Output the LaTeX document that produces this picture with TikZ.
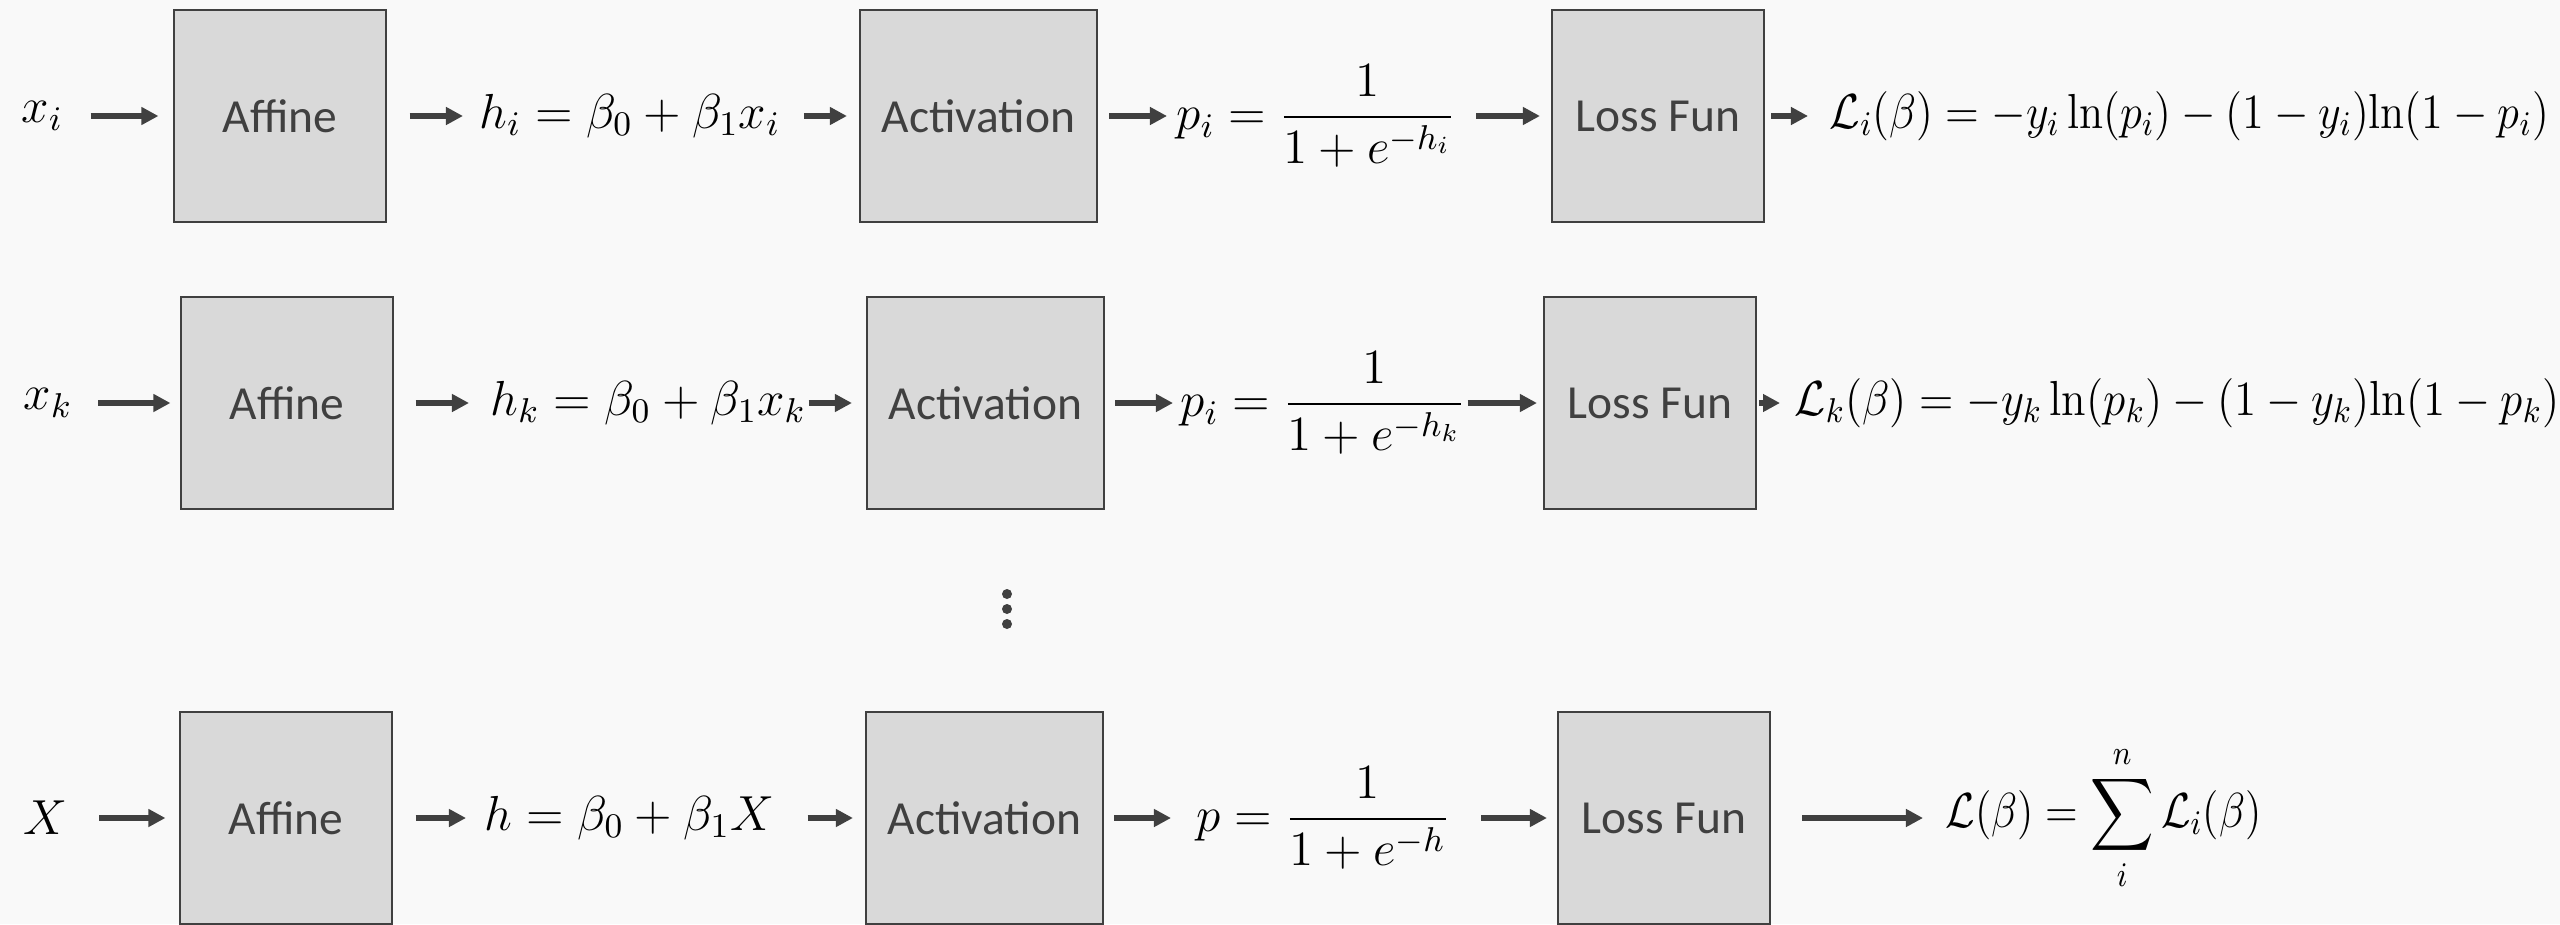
\RequirePackage{fix-cm}
\documentclass[tikz,border=0pt]{standalone}
\usepackage{amsmath}
\usepackage{graphicx}
\usepackage[no-math]{fontspec}
\newfontfamily\carlito{Carlito}
\usetikzlibrary{arrows.meta}
\definecolor{bg}{HTML}{F9F9F9}
\definecolor{boxfill}{HTML}{D9D9D9}
\definecolor{dk}{HTML}{404040}
\begin{document}
\begin{tikzpicture}[x=0.01cm,y=-0.01cm,
  blk/.style={draw=dk, line width=0.02cm, fill=boxfill, minimum height=2.11cm,
    text=dk, font=\carlito\fontsize{13.5}{16}\selectfont, inner sep=0},
  affbox/.style={blk, minimum width=2.11cm},
  actbox/.style={blk, minimum width=2.37cm},
  lossbox/.style={blk, minimum width=2.12cm},
  eq/.style={inner sep=0, font=\fontsize{14}{17}\selectfont, anchor=west},
  arr/.style={draw=dk, line width=0.065cm, -{Triangle[length=0.17cm,width=0.17cm]}},
]
\fill[bg] (0,0) rectangle (2560,924);
\useasboundingbox (0,0) rectangle (2560,924);
\clip (0,0) rectangle (2560,924);

% Row 1
\node[eq] (x1) at (21,116) {$x_i$};
\node[affbox] (aff1) at (280,116) {Affine};
\node[eq] (h1) at (479,116) {$h_i = \beta_0 + \beta_1 x_i$};
\node[actbox] (act1) at (978.5,116) {Activation};
\node[eq] (p1) at (1176,116) {$p_i = \dfrac{1}{1+e^{-h_i}}$};
\node[lossbox] (loss1) at (1658,116) {Loss Fun};
\node[eq] (L1) at (1829,116) {\scalebox{0.9}[1]{$\mathcal{L}_i(\beta) = -y_i \ln(p_i) - (1-y_i)\mathrm{ln}(1-p_i)$}};

\draw[arr, shorten <=0.27cm, shorten >=0.15cm] (x1) -- (aff1);
\draw[arr, shorten <=0.23cm, shorten >=0.16cm] (aff1) -- (h1);
\draw[arr, shorten <=0.23cm, shorten >=0.12cm] (h1) -- (act1);
\draw[arr, shorten <=0.11cm, shorten >=0.09cm] (act1) -- (p1);
\draw[arr, shorten <=0.20cm, shorten >=0.11cm] (p1) -- (loss1);
\draw[arr, shorten <=0.06cm, shorten >=0.21cm] (loss1) -- (L1);

% Row 2
\node[eq] (x2) at (23,403) {$x_k$};
\node[affbox] (aff2) at (287,403) {Affine};
\node[eq] (h2) at (490,403) {$h_k = \beta_0 + \beta_1 x_k$};
\node[actbox] (act2) at (985.5,403) {Activation};
\node[eq] (p2) at (1180,403) {$p_i = \dfrac{1}{1+e^{-h_k}}$};
\node[lossbox] (loss2) at (1650,403) {Loss Fun};
\node[eq] (L2) at (1794,403) {\scalebox{0.915}[1]{$\mathcal{L}_k(\beta) = -y_k \ln(p_k) - (1-y_k)\mathrm{ln}(1-p_k)$}};

\draw[arr, shorten <=0.25cm, shorten >=0.10cm] (x2) -- (aff2);
\draw[arr, shorten <=0.22cm, shorten >=0.21cm] (aff2) -- (h2);
\draw[arr, shorten <=0.02cm, shorten >=0.14cm] (h2) -- (act2);
\draw[arr, shorten <=0.10cm, shorten >=0.07cm] (act2) -- (p2);
\draw[arr, shorten <=0.02cm, shorten >=0.06cm] (p2) -- (loss2);
\draw[arr, shorten <=0.02cm, shorten >=0.14cm] (loss2) -- (L2);

% dots
\fill[dk] (1007,594) circle (0.05cm);
\fill[dk] (1007,609) circle (0.05cm);
\fill[dk] (1007,624) circle (0.05cm);

% Row 3
\node[eq] (x3) at (23,818) {$X$};
\node[affbox] (aff3) at (286,818) {Affine};
\node[eq] (h3) at (484,818) {$h = \beta_0 + \beta_1 X$};
\node[actbox] (act3) at (984.5,818) {Activation};
\node[eq] (p3) at (1196,818) {$p = \dfrac{1}{1+e^{-h}}$};
\node[lossbox] (loss3) at (1664,818) {Loss Fun};
\node[eq] (L3) at (1945,818) {\scalebox{0.87}[1]{$\mathcal{L}(\beta) = \displaystyle\sum_{i}^{n} \mathcal{L}_i(\beta)$}};

\draw[arr, shorten <=0.31cm, shorten >=0.14cm] (x3) -- (aff3);
\draw[arr, shorten <=0.23cm, shorten >=0.18cm] (aff3) -- (h3);
\draw[arr, shorten <=0.33cm, shorten >=0.12cm] (h3) -- (act3);
\draw[arr, shorten <=0.10cm, shorten >=0.25cm] (act3) -- (p3);
\draw[arr, shorten <=0.31cm, shorten >=0.10cm] (p3) -- (loss3);
\draw[arr, shorten <=0.31cm, shorten >=0.22cm] (loss3) -- (L3);
\end{tikzpicture}
\end{document}
